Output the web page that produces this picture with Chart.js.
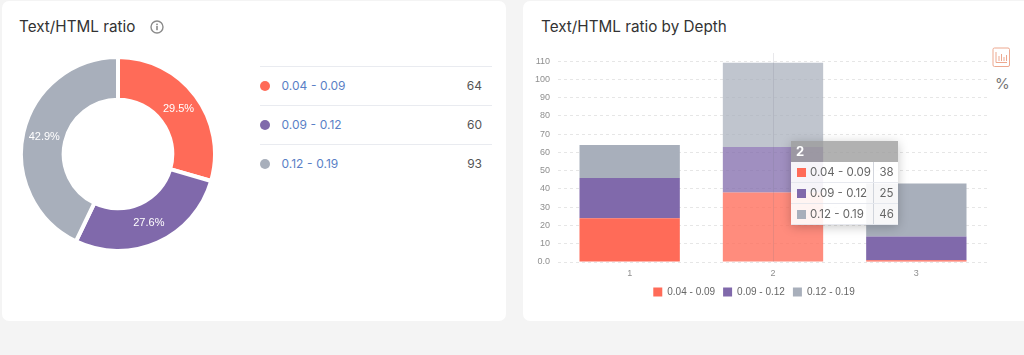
<!DOCTYPE html>
<html><head><meta charset="utf-8">
<script src="https://cdn.jsdelivr.net/npm/chart.js@4"></script>
<style>
html,body{margin:0;padding:0;width:1024px;height:355px;overflow:hidden;background:#f4f4f4;font-family:Inter,sans-serif}
.card{position:absolute;background:#fff;border-radius:7px;top:1px;height:320px}
#c1{left:2px;width:504px}
#c2{left:523px;width:520px}
.title{position:absolute;font-size:15.25px;line-height:20px;color:#333;top:17px;white-space:nowrap}
canvas{position:absolute}
.line{position:absolute;left:260px;width:232px;height:1px;background:#e9ebf0}
.dot{position:absolute;left:260px;width:10px;height:10px;border-radius:50%}
.lab{position:absolute;left:281.5px;font-size:12px;word-spacing:.3px;line-height:16px;color:#5a7fc6;white-space:nowrap}
.val{position:absolute;right:542px;font-size:12px;line-height:16px;color:#555}
#tip{position:absolute;left:791px;top:141px;width:107px;font-size:11.5px;color:#666;box-shadow:0 2px 10px rgba(0,0,0,.22);display:none}
#tip .h{height:20.5px;line-height:20px;background:rgba(155,155,155,.78);color:#fff;font-weight:700;font-size:13px;padding-left:5px}
#tip .r{position:relative;height:21px;line-height:21px;background:rgba(255,255,255,.9);box-sizing:border-box;border-bottom:1px solid rgba(225,228,235,.8)}
#tip .s{position:absolute;left:5.5px;top:6px;width:9px;height:9px}
#tip .n{position:absolute;left:19px;white-space:nowrap}
#tip .v{position:absolute;left:82px;top:0;bottom:0;width:25px;text-align:center;border-left:1px solid rgba(200,204,212,.8);box-sizing:border-box;padding-left:1px}
</style></head><body>
<div class="card" id="c1"></div><div class="card" id="c2"></div>
<div class="title" style="left:19px">Text/HTML ratio</div>
<svg style="position:absolute;left:150px;top:20px" width="14" height="14" viewBox="0 0 14 14"><circle cx="7" cy="7" r="6" fill="none" stroke="#8b8b8b" stroke-width="1.4"/><rect x="6.200" y="6" width="1.6" height="4.2" fill="#8b8b8b"/><rect x="6.200" y="3.600" width="1.6" height="1.6" fill="#8b8b8b"/></svg>
<div class="title" style="left:541px">Text/HTML ratio by Depth</div>
<div id="list"></div>
<canvas id="donut" width="198" height="198" style="left:19px;top:55px;width:198px;height:198px"></canvas>
<canvas id="bars" width="468" height="269" style="left:520px;top:38px;width:468px;height:269px"></canvas>
<svg style="position:absolute;left:992px;top:47px" width="19" height="21" viewBox="0 0 19 21"><rect x="1" y="1" width="16.500" height="18.500" rx="1.500" fill="#fff" stroke="#eda88f" stroke-width="1"/><path d="M4 5v10.500h11M7 14V9M9.500 14V7M12 14V10M14.500 14V8" fill="none" stroke="#eda88f" stroke-width="1"/></svg>
<div style="position:absolute;left:995px;top:75px;font-size:15px;line-height:18px;color:#777">%</div>
<div id="tip"></div>
<script>
const categories = ['0.04 - 0.09', '0.09 - 0.12', '0.12 - 0.19'];
const totals = [64, 60, 93];
const shares = ['29.5%', '27.6%', '42.9%'];
const depths = ['1', '2', '3'];
const low = [24, 38, 1];
const mid = [22, 25, 13];
const high = [18, 46, 29];
const colors = ['#ff6b58', '#8069ab', '#a8afbb'];
const hoverColors = ['rgba(255,107,88,.78)', 'rgba(128,105,171,.75)', 'rgba(168,175,187,.72)'];
const hoveredDepth = 1;

const list = document.getElementById('list');
categories.forEach((c, i) => {
  const y = 66 + i * 39;
  list.insertAdjacentHTML('beforeend',
    `<div class="line" style="top:${y}px"></div>
     <div class="dot" style="top:${y + 15}px;background:${colors[i]}"></div>
     <div class="lab" style="top:${y + 12}px">${c}</div>
     <div class="val" style="top:${y + 12}px">${totals[i]}</div>`);
});

const sliceLabels = {
  id: 'sliceLabels',
  afterDatasetsDraw(chart) {
    const ctx = chart.ctx;
    ctx.save();
    ctx.font = '11px "Liberation Sans", Arial, sans-serif';
    ctx.fillStyle = '#fff';
    ctx.textAlign = 'center';
    ctx.textBaseline = 'middle';
    chart.getDatasetMeta(0).data.forEach((arc, i) => {
      const p = arc.tooltipPosition();
      ctx.fillText(shares[i], p.x, p.y);
    });
    ctx.restore();
  }
};
new Chart(document.getElementById('donut'), {
  type: 'doughnut',
  data: { labels: categories, datasets: [{ data: totals, backgroundColor: colors, borderColor: '#fff', borderWidth: 4, hoverOffset: 0 }] },
  options: { responsive: false, animation: false, cutout: '56%', plugins: { legend: { display: false }, tooltip: { enabled: false } } },
  plugins: [sliceLabels]
});

const crosshair = {
  id: 'crosshair',
  afterDatasetsDraw(chart) {
    const { ctx, chartArea, scales } = chart;
    const x = Math.round(scales.x.getPixelForValue(hoveredDepth)) + .5;
    ctx.save();
    ctx.strokeStyle = 'rgba(110,110,130,.16)';
    ctx.lineWidth = 1;
    ctx.beginPath();
    ctx.moveTo(x, chartArea.top);
    ctx.lineTo(x, chartArea.bottom);
    ctx.stroke();
    ctx.restore();
  }
};
function externalTip({ tooltip }) {
  const tip = document.getElementById('tip');
  if (!tooltip.dataPoints || !tooltip.dataPoints.length) { tip.style.display = 'none'; return; }
  tip.style.display = 'block';
  tip.innerHTML = `<div class="h">${tooltip.dataPoints[0].label}</div>` + tooltip.dataPoints.map(d =>
    `<div class="r"><span class="s" style="background:${colors[d.datasetIndex]}"></span><span class="n">${d.dataset.label}</span><span class="v">${d.raw}</span></div>`).join('');
}
const series = [low, mid, high];
const chart = new Chart(document.getElementById('bars'), {
  type: 'bar',
  data: {
    labels: depths,
    datasets: categories.map((c, i) => ({
      label: c, data: series[i], backgroundColor: colors[i], hoverBackgroundColor: hoverColors[i],
      borderWidth: 0, hoverBorderWidth: 0, categoryPercentage: 1, barPercentage: .7
    }))
  },
  options: {
    responsive: false, animation: false,
    events: [],
    layout: { padding: { top: 15, right: 0, bottom: 0, left: 0 } },
    scales: {
      x: { stacked: true, grid: { display: false, drawTicks: false }, border: { display: false },
           ticks: { color: '#8f8f8f', font: { size: 9, family: '"Liberation Sans"' }, padding: 6 },
           afterFit(s) { s.height = 17; } },
      y: { stacked: true, min: 0, max: 114.4,
           grid: { color: '#e6e6e6', drawTicks: false }, border: { display: false, dash: [3, 3] },
           ticks: { stepSize: 10, includeBounds: false, color: '#8f8f8f', padding: 8, font: { size: 9, family: '"Liberation Sans"' },
                    callback: v => v === 0 ? '0.0' : v },
           afterFit(s) { s.width = 38; } }
    },
    plugins: {
      legend: { position: 'bottom', labels: { boxWidth: 9, boxHeight: 9, padding: 8, color: '#666', font: { size: 10, family: '"Liberation Sans"' } } },
      tooltip: { enabled: false, mode: 'index', external: externalTip }
    }
  },
  plugins: [crosshair]
});
const active = categories.map((c, i) => ({ datasetIndex: i, index: hoveredDepth }));
chart.setActiveElements(active);
chart.tooltip.setActiveElements(active, { x: 0, y: 0 });
chart.render();
</script>
</body></html>
